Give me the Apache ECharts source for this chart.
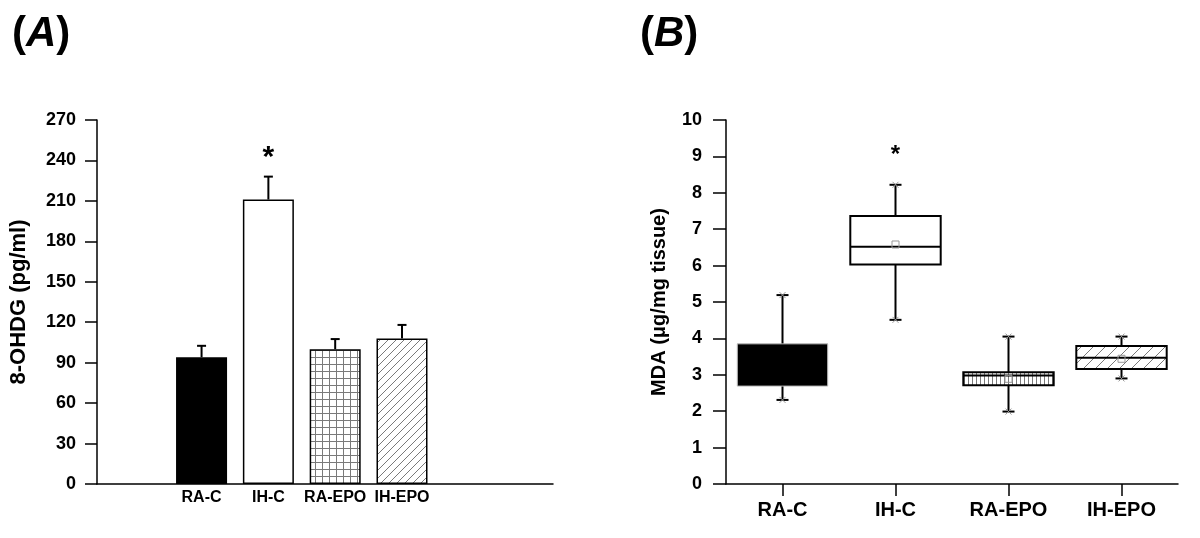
<!DOCTYPE html>
<html>
<head>
<meta charset="utf-8">
<script src="https://cdn.jsdelivr.net/npm/echarts@6/dist/echarts.min.js"></script>
<style>html,body{margin:0;padding:0;background:#fff;}#main{width:1200px;height:538px;}</style>
</head>
<body>
<div id="main"></div>
<script>
// ---------- data ----------
const categories = ['RA-C', 'IH-C', 'RA-EPO', 'IH-EPO'];
// Panel A: 8-OHDG mean and SE (pg/ml)
const ohdgMean = [94, 211, 100, 108];
const ohdgSE = [8.5, 17, 7.5, 10];
const ohdgTicks = [0, 30, 60, 90, 120, 150, 180, 210, 240, 270];
// Panel B: MDA box plots (ug/mg tissue)
const mdaMin = [2.31, 4.51, 1.99, 2.90];
const mdaQ1 = [2.69, 6.03, 2.71, 3.16];
const mdaMedian = [3.2, 6.52, 2.98, 3.47];
const mdaQ3 = [3.85, 7.36, 3.07, 3.79];
const mdaMax = [5.19, 8.22, 4.05, 4.05];
const mdaMean = [3.3, 6.58, 2.89, 3.44];
const mdaTicks = [0, 1, 2, 3, 4, 5, 6, 7, 8, 9, 10];
const sigMarks = ['', '*', '', ''];

// ---------- styles ----------
const FONT = "'Liberation Sans', Arial, sans-serif";
function makePattern(kind) {
  const c = document.createElement('canvas');
  const s = {grid: 7, diag: 8, vert: 4, diagB: 12}[kind];
  c.width = s; c.height = s;
  const g = c.getContext('2d');
  g.fillStyle = '#fff'; g.fillRect(0, 0, s, s);
  g.strokeStyle = '#7a7a7a'; g.lineWidth = 1;
  g.beginPath();
  if (kind === 'grid') {
    g.moveTo(0.5, 0); g.lineTo(0.5, s);
    g.moveTo(0, 0.5); g.lineTo(s, 0.5);
  } else if (kind === 'vert') {
    g.moveTo(0.5, 0); g.lineTo(0.5, s);
  } else {
    g.moveTo(0, s); g.lineTo(s, 0);
    g.moveTo(-1, 1); g.lineTo(1, -1);
    g.moveTo(s - 1, s + 1); g.lineTo(s + 1, s - 1);
  }
  g.stroke();
  return {image: c, repeat: 'repeat'};
}
const fillsA = ['#000', '#fff', makePattern('grid'), makePattern('diag')];
const fillsB = ['#000', '#fff', makePattern('vert'), makePattern('diagB')];

const barData = ohdgMean.map((v, i) => ({
  value: [i + 1, v],
  itemStyle: {color: fillsA[i], borderColor: '#000', borderWidth: 1.5}
}));
const errData = ohdgMean.map((v, i) => [i + 1, v, v + ohdgSE[i], i]);
const boxData = categories.map((c, i) => [i, mdaMin[i], mdaQ1[i], mdaMedian[i], mdaQ3[i], mdaMax[i], mdaMean[i]]);

const axisLineStyle = {show: true, onZero: false, lineStyle: {color: '#000', width: 1.5}};
const tickLabel = {color: '#000', fontFamily: FONT, fontWeight: 'bold', fontSize: 18};
const titleRich = {
  p: {fontSize: 42, fontWeight: 'bold', fontFamily: FONT, color: '#000'},
  a: {fontSize: 42, fontWeight: 'bold', fontStyle: 'italic', fontFamily: FONT, color: '#000'}
};

const option = {
  backgroundColor: '#fff',
  animation: false,
  title: [
    {text: '{p|(}{a|A}{p|)}', left: 7, top: 8, textStyle: {rich: titleRich}},
    {text: '{p|(}{a|B}{p|)}', left: 635, top: 8, textStyle: {rich: titleRich}}
  ],
  grid: [
    {left: 97, right: 647, top: 120, bottom: 54},
    {left: 726, right: 22, top: 120, bottom: 54}
  ],
  xAxis: [
    {gridIndex: 0, type: 'value', min: -0.565, max: 6.26,
     axisLine: axisLineStyle, axisTick: {show: false}, splitLine: {show: false},
     axisLabel: {customValues: [1, 2, 3, 4], formatter: v => categories[Math.round(v) - 1] || '',
                 color: '#000', fontFamily: FONT, fontWeight: 'bold', fontSize: 16, margin: 6}},
    {gridIndex: 1, type: 'category', data: categories, boundaryGap: true,
     axisLine: axisLineStyle,
     axisTick: {show: true, alignWithLabel: true, length: 12, lineStyle: {color: '#000', width: 1.5}},
     axisLabel: {color: '#000', fontFamily: FONT, fontWeight: 'bold', fontSize: 20, margin: 16}}
  ],
  yAxis: [
    {gridIndex: 0, type: 'value', min: ohdgTicks[0], max: ohdgTicks[ohdgTicks.length - 1], interval: 30,
     name: '8-OHDG (pg/ml)', nameLocation: 'middle', nameGap: 67, nameRotate: 90,
     nameTextStyle: {color: '#000', fontFamily: FONT, fontWeight: 'bold', fontSize: 22},
     axisLine: axisLineStyle,
     axisTick: {show: true, length: 12, lineStyle: {color: '#000', width: 1.5}},
     axisLabel: Object.assign({margin: 21}, tickLabel), splitLine: {show: false}},
    {gridIndex: 1, type: 'value', min: mdaTicks[0], max: mdaTicks[mdaTicks.length - 1], interval: 1,
     name: 'MDA (μg/mg tissue)', nameLocation: 'middle', nameGap: 57, nameRotate: 90,
     nameTextStyle: {color: '#000', fontFamily: FONT, fontWeight: 'bold', fontSize: 20},
     axisLine: axisLineStyle,
     axisTick: {show: true, length: 13, lineStyle: {color: '#000', width: 1.5}},
     axisLabel: Object.assign({margin: 24}, tickLabel), splitLine: {show: false}}
  ],
  series: [
    {type: 'bar', xAxisIndex: 0, yAxisIndex: 0, data: barData, barWidth: 51, z: 2},
    {type: 'custom', xAxisIndex: 0, yAxisIndex: 0, data: errData, z: 3,
     renderItem: function (params, api) {
       const base = api.coord([api.value(0), api.value(1)]);
       const top = api.coord([api.value(0), api.value(2)]);
       const idx = api.value(3);
       const ch = [
         {type: 'line', shape: {x1: base[0], y1: base[1], x2: top[0], y2: top[1]}, style: {stroke: '#000', lineWidth: 2}},
         {type: 'line', shape: {x1: top[0] - 4.5, y1: top[1], x2: top[0] + 4.5, y2: top[1]}, style: {stroke: '#000', lineWidth: 2}}
       ];
       if (sigMarks[idx]) {
         ch.push({type: 'text', x: top[0], y: top[1] - 19,
                  style: {text: sigMarks[idx], fill: '#000', font: 'bold 30px ' + FONT, align: 'center', verticalAlign: 'middle'}});
       }
       return {type: 'group', children: ch};
     }},
    {type: 'custom', xAxisIndex: 1, yAxisIndex: 1, data: boxData, z: 3,
     renderItem: function (params, api) {
       const i = api.value(0);
       const w = api.size([1, 0])[0] * 0.8;
       const pMin = api.coord([i, api.value(1)]);
       const pQ1 = api.coord([i, api.value(2)]);
       const pMed = api.coord([i, api.value(3)]);
       const pQ3 = api.coord([i, api.value(4)]);
       const pMax = api.coord([i, api.value(5)]);
       const pMean = api.coord([i, api.value(6)]);
       const x = pQ1[0];
       const ln = {stroke: '#000', lineWidth: 2};
       const gray = {stroke: '#999', lineWidth: 1};
       const dark = i === 0;
       const ch = [
         {type: 'line', shape: {x1: x, y1: pMax[1], x2: x, y2: pMin[1]}, style: ln},
         {type: 'line', shape: {x1: x - 6, y1: pMax[1], x2: x + 6, y2: pMax[1]}, style: ln},
         {type: 'line', shape: {x1: x - 6, y1: pMin[1], x2: x + 6, y2: pMin[1]}, style: ln},
         {type: 'line', shape: {x1: x - 3, y1: pMax[1] - 3, x2: x + 3, y2: pMax[1] + 3}, style: gray},
         {type: 'line', shape: {x1: x - 3, y1: pMax[1] + 3, x2: x + 3, y2: pMax[1] - 3}, style: gray},
         {type: 'line', shape: {x1: x - 3, y1: pMin[1] - 3, x2: x + 3, y2: pMin[1] + 3}, style: gray},
         {type: 'line', shape: {x1: x - 3, y1: pMin[1] + 3, x2: x + 3, y2: pMin[1] - 3}, style: gray},
         {type: 'rect', shape: {x: x - w / 2, y: pQ3[1], width: w, height: pQ1[1] - pQ3[1]},
          style: {fill: fillsB[i], stroke: dark ? '#bbb' : '#000', lineWidth: dark ? 1 : 2}},
         {type: 'line', shape: {x1: x - w / 2, y1: pMed[1], x2: x + w / 2, y2: pMed[1]},
          style: {stroke: '#000', lineWidth: dark ? 0 : 2}},
         {type: 'rect', shape: {x: pMean[0] - 3.5, y: pMean[1] - 3.5, width: 7, height: 7},
          style: {fill: 'none', stroke: dark ? '#000' : '#999', lineWidth: 1}}
       ];
       if (sigMarks[i]) {
         ch.push({type: 'text', x: x, y: pMax[1] - 29,
                  style: {text: sigMarks[i], fill: '#000', font: 'bold 24px ' + FONT, align: 'center', verticalAlign: 'middle'}});
       }
       return {type: 'group', children: ch};
     }}
  ]
};
const chart = echarts.init(document.getElementById('main'), null, {renderer: 'canvas'});
chart.setOption(option);
</script>
</body>
</html>
